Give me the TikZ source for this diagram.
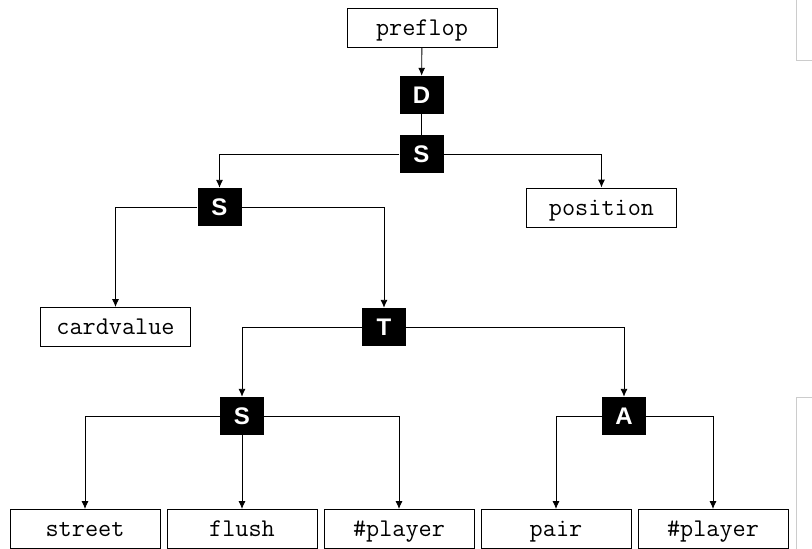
\documentclass[tikz,border=0pt]{standalone}
\usepackage{fontspec}
\newfontfamily\opfont{Liberation Sans}
\usetikzlibrary{arrows.meta}

\tikzset{
  leaf/.style={draw, line width=0.9pt, minimum width=150pt, minimum height=39pt,
    inner sep=0pt, text height=18pt, text depth=3pt,
    font=\ttfamily\fontsize{25.5}{28}\selectfont},
  op/.style={fill=black, text=white, minimum width=44pt, minimum height=38pt,
    inner sep=0pt, font=\opfont\bfseries\fontsize{24}{28}\selectfont},
  link/.style={line width=0.9pt},
  arr/.style={link, -{Latex[length=8pt,width=7pt]}}
}

\begin{document}
\begin{tikzpicture}[x=1pt,y=-1pt]

\useasboundingbox (0,0) rectangle (812,549);

%edge of the page
\draw [gray!40, line width=1pt] (796,0) -- (796,60) -- (812,60) ;
\draw [gray!40, line width=1pt] (812,397) -- (796,397) -- (796,549) ;

%top
\node [leaf] (preflop) at (422,27.5) {preflop} ;
\node [op] (d) at (421.5,95) {D} ;
\node [op] (s1) at (421.5,154) {S} ;

%second level
\node [op] (s2) at (219.5,207) {S} ;
\node [leaf] (position) at (601.5,207.5) {position} ;

%third level
\node [leaf] (cardvalue) at (115.5,327) {cardvalue} ;
\node [op] (t) at (384,327) {T} ;

%fourth level
\node [op] (s3) at (242,416) {S} ;
\node [op] (a) at (624,416) {A} ;

%leaves
\node [leaf] (street) at (85,529) {street} ;
\node [leaf] (flush) at (242,529) {flush} ;
\node [leaf] (player1) at (399,529) {\#player} ;
\node [leaf] (pair) at (556,529) {pair} ;
\node [leaf] (player2) at (713,529) {\#player} ;

%connectors
\draw [arr] (preflop) -- (d) ;
\draw [link] (d) -- (s1) ;
\draw [arr] (s1.west) -| (s2.north) ;
\draw [arr] (s1.east) -| (position.north) ;
\draw [arr] (s2.west) -| (cardvalue.north) ;
\draw [arr] (s2.east) -| (t.north) ;
\draw [arr] (t.west) -| (s3.north) ;
\draw [arr] (t.east) -| (a.north) ;
\draw [arr] (s3.west) -| (street.north) ;
\draw [arr] (s3) -- (flush) ;
\draw [arr] (s3.east) -| (player1.north) ;
\draw [arr] (a.west) -| (pair.north) ;
\draw [arr] (a.east) -| (player2.north) ;

\end{tikzpicture}
\end{document}
